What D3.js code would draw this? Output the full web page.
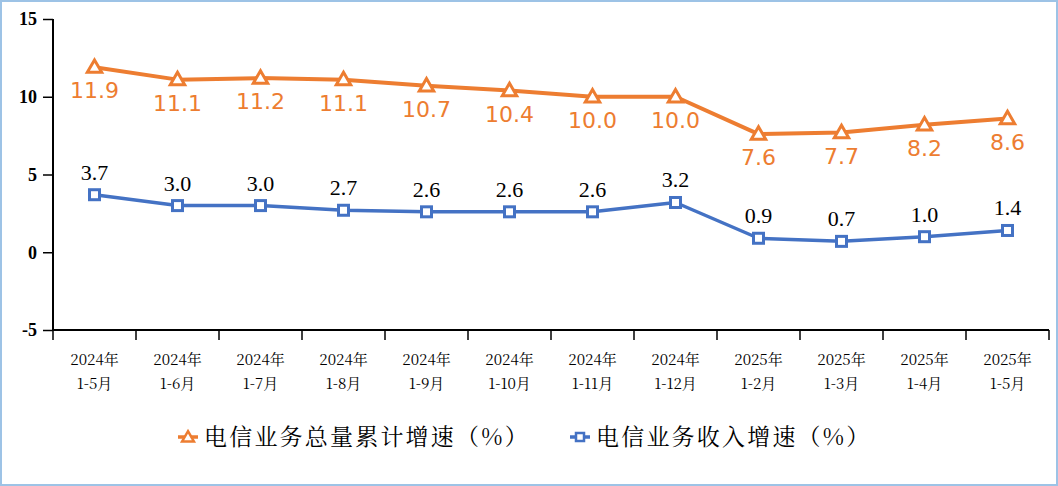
<!DOCTYPE html>
<html><head><meta charset="utf-8">
<script src="https://cdn.jsdelivr.net/npm/d3@7"></script>
<style>body{margin:0;background:#fff}svg{display:block}</style>
</head><body><svg id="c" width="1058" height="486"></svg>
<script>
const years = ["2024年","2024年","2024年","2024年","2024年","2024年","2024年","2024年","2025年","2025年","2025年","2025年"];
const months = ["1-5月","1-6月","1-7月","1-8月","1-9月","1-10月","1-11月","1-12月","1-2月","1-3月","1-4月","1-5月"];
const totalVolume = [11.9,11.1,11.2,11.1,10.7,10.4,10.0,10.0,7.6,7.7,8.2,8.6];
const revenue = [3.7,3.0,3.0,2.7,2.6,2.6,2.6,3.2,0.9,0.7,1.0,1.4];
const yTicks = [-5,0,5,10,15];
const seriesNames = ["电信业务总量累计增速（%）","电信业务收入增速（%）"];

const svg = d3.select("#c");
const orange = "#ED7D31", blue = "#4472C4";
svg.append("rect").attr("x",1).attr("y",1).attr("width",1056).attr("height",484)
  .attr("fill","#fff").attr("stroke","#9DC3E6").attr("stroke-width",2);

const x = d3.scaleBand().domain(d3.range(12)).range([53,1049]);
const y = d3.scaleLinear().domain([-5,15]).range([330,19]);
const cx = i => x(i) + x.bandwidth()/2;

// y axis
const ya = svg.append("g").attr("transform","translate(53,0)")
  .call(d3.axisLeft(y).tickValues(yTicks).tickSize(10).tickPadding(6).tickFormat(d=>String(d)));
ya.select(".domain").attr("stroke","#000").attr("stroke-width",2).attr("d","M0,19V330");
ya.selectAll(".tick line").attr("stroke","#000").attr("stroke-width",1.5);
ya.selectAll(".tick text").attr("font-family","Liberation Serif, serif").attr("font-weight","bold")
  .attr("font-size",18).attr("fill","#000");

// x axis
const xa = svg.append("g").attr("transform","translate(0,330)");
xa.append("path").attr("stroke","#000").attr("stroke-width",2).attr("fill","none").attr("d","M53,0H1049");
const bounds = x.domain().map(d=>x(d)).concat([x(11)+x.bandwidth()]);
xa.selectAll("line.tk").data(bounds).join("line").attr("class","tk")
  .attr("x1",d=>d).attr("x2",d=>d).attr("y1",0).attr("y2",10).attr("stroke","#000").attr("stroke-width",1.5);
const xl = svg.append("g").attr("font-family","'Noto Serif CJK SC','Noto Sans CJK SC',serif").attr("font-size",15).attr("fill","#000").attr("text-anchor","middle");
xl.selectAll("text.yr").data(years).join("text").attr("class","yr").attr("x",(d,i)=>cx(i)).attr("y",365).text(d=>d);
xl.selectAll("text.mo").data(months).join("text").attr("class","mo").attr("x",(d,i)=>cx(i)).attr("y",389).text(d=>d);

// lines
const line = d3.line().x((d,i)=>cx(i)).y(d=>y(d));
svg.append("path").datum(totalVolume).attr("d",line).attr("fill","none").attr("stroke",orange).attr("stroke-width",4).attr("stroke-linejoin","round");
svg.append("path").datum(revenue).attr("d",line).attr("fill","none").attr("stroke",blue).attr("stroke-width",3.5).attr("stroke-linejoin","round");

const tri = d3.symbol().type(d3.symbolTriangle).size(90);
svg.selectAll("path.tri").data(totalVolume).join("path").attr("class","tri")
  .attr("transform",(d,i)=>`translate(${cx(i)},${y(d)+1})`).attr("d",tri)
  .attr("fill","#fff").attr("stroke",orange).attr("stroke-width",3);
svg.selectAll("rect.sq").data(revenue).join("rect").attr("class","sq")
  .attr("x",(d,i)=>cx(i)-5).attr("y",d=>y(d)-5).attr("width",10).attr("height",10)
  .attr("fill","#fff").attr("stroke",blue).attr("stroke-width",3);

// labels
svg.selectAll("text.ol").data(totalVolume).join("text").attr("class","ol")
  .attr("x",(d,i)=>cx(i)).attr("y",d=>y(d)+31).attr("text-anchor","middle")
  .attr("font-family","DejaVu Sans, sans-serif").attr("font-size",22).attr("fill",orange)
  .text(d=>d.toFixed(1));
svg.selectAll("text.bl").data(revenue).join("text").attr("class","bl")
  .attr("x",(d,i)=>cx(i)).attr("y",d=>y(d)-15).attr("text-anchor","middle")
  .attr("font-family","Liberation Serif, serif").attr("font-size",22).attr("fill","#000")
  .text(d=>d.toFixed(1));

// legend
const lg = svg.append("g");
const items = [{name:seriesNames[0],c:orange,x:178,t:"tri"},{name:seriesNames[1],c:blue,x:570,t:"sq"}];
items.forEach(it=>{
  lg.append("line").attr("x1",it.x).attr("x2",it.x+20).attr("y1",437).attr("y2",437).attr("stroke",it.c).attr("stroke-width",3.5);
  if(it.t==="tri"){
    lg.append("path").attr("transform",`translate(${it.x+10},438)`).attr("d",d3.symbol().type(d3.symbolTriangle).size(60))
      .attr("fill","#fff").attr("stroke",it.c).attr("stroke-width",2.5);
  } else {
    lg.append("rect").attr("x",it.x+6).attr("y",433).attr("width",8).attr("height",8).attr("fill","#fff").attr("stroke",it.c).attr("stroke-width",2.5);
  }
  lg.append("text").attr("x",it.x+26).attr("y",445).attr("font-family","'Noto Serif CJK SC','Noto Sans CJK SC',serif")
    .attr("font-size",23).attr("letter-spacing",2.2).attr("fill","#000").text(it.name);
});
</script></body></html>
